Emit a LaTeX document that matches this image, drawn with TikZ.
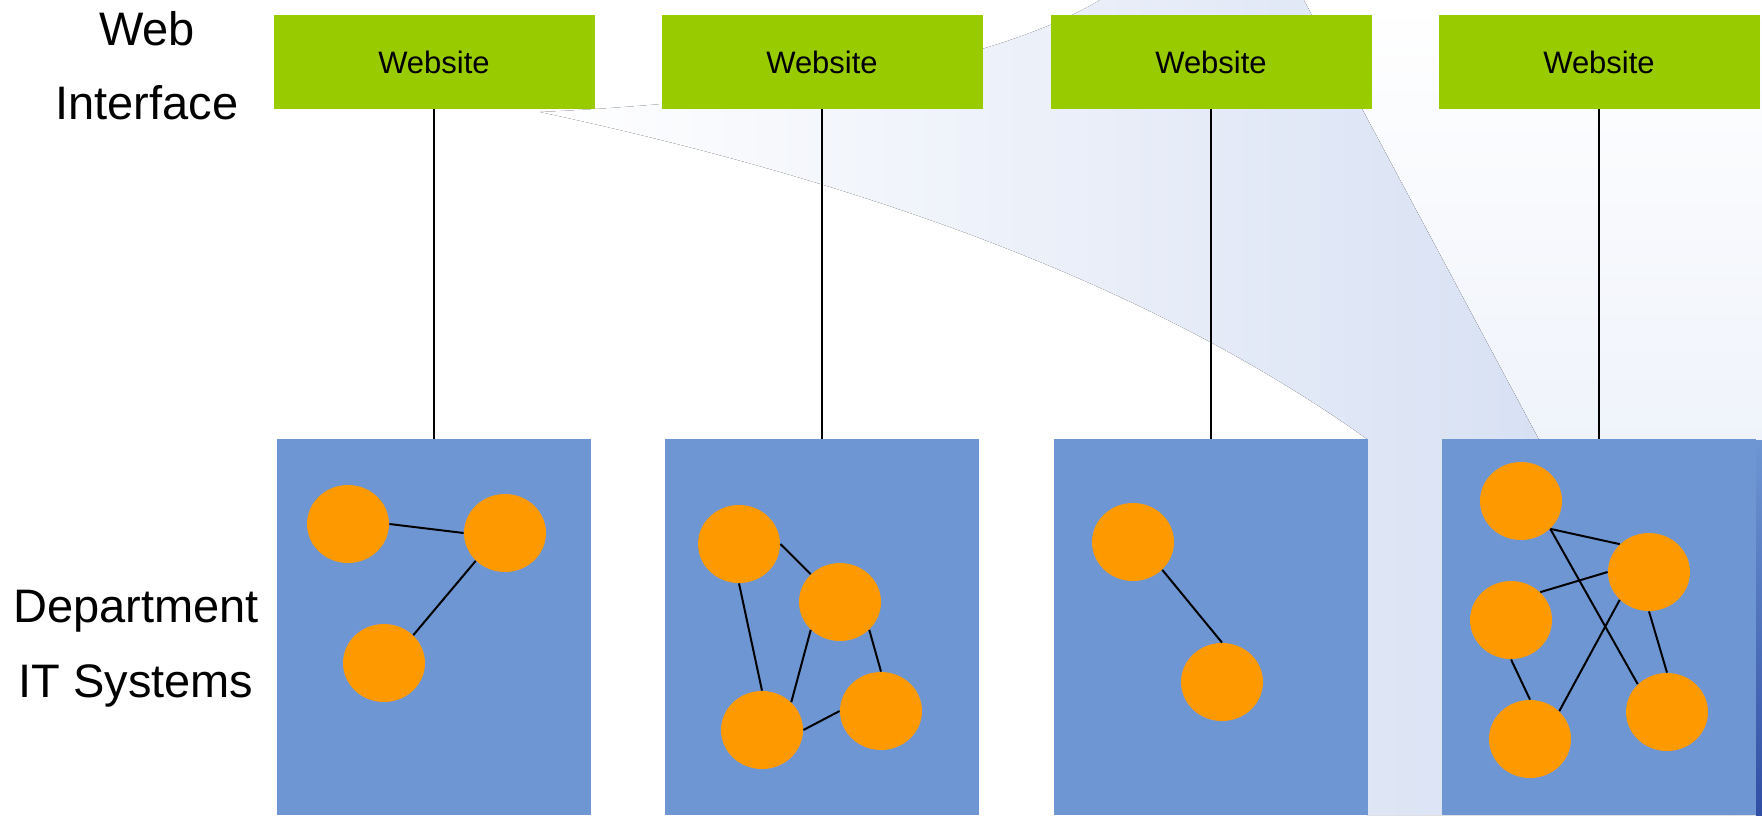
\documentclass[tikz,border=0pt]{standalone}
\usepackage{fontspec}
\setmainfont{Liberation Sans}
\usetikzlibrary{shapes.geometric}

\definecolor{webgreen}{RGB}{153,204,0}
\definecolor{deptblue}{RGB}{110,150,211}
\definecolor{sysorange}{RGB}{255,153,0}
\definecolor{swooshA}{RGB}{208,219,241}
\definecolor{swooshB}{RGB}{226,233,247}
\definecolor{edgeblue}{RGB}{48,78,164}

\tikzset{
  website/.style={fill=webgreen, minimum width=160.5pt, minimum height=47pt, inner sep=0pt,
    font=\fontsize{15.5}{18}\selectfont},
  deptbox/.style={fill=deptblue, minimum width=157pt, minimum height=188pt, inner sep=0pt, anchor=north},
  sys/.style={ellipse, fill=sysorange, minimum width=41pt, minimum height=39pt, inner sep=0pt},
  rowlabel/.style={font=\fontsize{23.5}{28}\selectfont, anchor=base},
  link/.style={line width=1pt}
}

\begin{document}
\begin{tikzpicture}[x=0.5pt, y=-0.5pt]
	\useasboundingbox (0,0) rectangle (1762,815);
	% faint slide background
	\fill[left color=white, right color=swooshA] (540,112) .. controls (950,200) and (1200,320) .. (1367,439)
	-- (1367,815) -- (1740,815) -- (1304,0) -- (1100,0)
	.. controls (1000,60) and (800,100) .. (540,112);
	\fill[top color=white, bottom color=swooshB] (1304,0) -- (1762,0) -- (1762,815) -- (1740,815) -- cycle;
	\fill[top color=deptblue, bottom color=edgeblue] (1756,440) rectangle (1762,815);

	% row labels
	\node[rowlabel] (web) at (147,45) {Web};
	\node[rowlabel] (iface) at (147,119) {Interface};
	\node[rowlabel] (dept) at (136,622) {Department};
	\node[rowlabel] (itsys) at (136,697) {IT Systems};

	% websites and department boxes
	\foreach \n/\x in {1/434, 2/822, 3/1211, 4/1599}{
		\node[website] (web\n) at (\x,62) {Website};
		\node[deptbox] (dept\n) at (\x,439) {};
		\draw[link] (web\n) -- (dept\n);
	}

	% systems inside each department
	\foreach \name/\pos in {s11/{348,524}, s12/{505,533}, s13/{384,663},
		s21/{739,544}, s22/{840,602}, s23/{762,730}, s24/{881,711},
		s31/{1133,542}, s32/{1222,682},
		s41/{1521,501}, s42/{1649,572}, s43/{1511,620}, s44/{1530,739}, s45/{1667,712}}
		\node[sys] (\name) at (\pos) {};

	\foreach \a/\b in {s11.east/s12.west, s12.south west/s13.north east,
		s21.east/s22.north west, s21.south/s23.north, s22.south west/s23.north east,
		s22.south east/s24.north, s23.east/s24.west,
		s31.south east/s32.north,
		s41.south east/s42.north west, s41.south east/s45.north west, s42.west/s43.north east,
		s42.south west/s44.north east, s42.south/s45.north, s43.south/s44.north}
		\draw[link] (\a) -- (\b);
\end{tikzpicture}
\end{document}
